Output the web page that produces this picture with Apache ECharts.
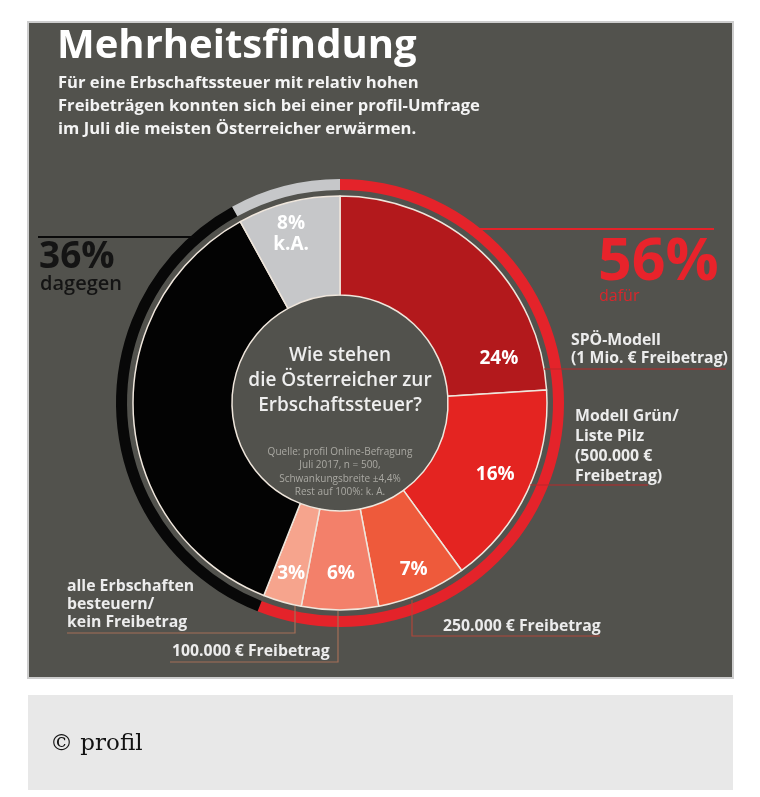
<!DOCTYPE html>
<html><head><meta charset="utf-8">
<script src="https://cdn.jsdelivr.net/npm/echarts@6/dist/echarts.min.js"></script>
<style>html,body{margin:0;padding:0;background:#fff;}#c{width:760px;height:797px;}</style>
</head><body><div id="c"></div>
<script>
// ---- data ----
const sliceNames = ['SPÖ-Modell (1 Mio. € Freibetrag)', 'Modell Grün/Liste Pilz (500.000 € Freibetrag)', '250.000 € Freibetrag', '100.000 € Freibetrag', 'alle Erbschaften besteuern/kein Freibetrag', 'dagegen', 'k.A.'];
const sliceValues = [24, 16, 7, 6, 3, 36, 8];
const sliceGroup = ['dafür', 'dafür', 'dafür', 'dafür', 'dafür', 'dagegen', 'k.A.'];
const groupNames = ['dafür', 'dagegen', 'k.A.'];
const groupTotals = groupNames.map(g => sliceValues.reduce((s, v, i) => s + (sliceGroup[i] === g ? v : 0), 0));

// ---- styles ----
const sliceColors = ['#b3191c', '#e42421', '#ee5a3b', '#f3806a', '#f6a48d', '#030303', '#c6c7c9'];
const ringColors = ['#e4232a', '#080808', '#c6c7c9'];
const labelShift = [[49, 73], [10, 3], [10, 19], [1, 10], [-4, 16], [0, 0], [-9, -13]];

function hasFont(name) {
  const ctx = document.createElement('canvas').getContext('2d');
  const s = 'mmmmmmmmmmlli1WQ0123456789abcdefgh';
  ctx.font = '40px monospace'; const a = ctx.measureText(s).width;
  ctx.font = '40px serif'; const a2 = ctx.measureText(s).width;
  ctx.font = '40px "' + name + '", monospace'; const b = ctx.measureText(s).width;
  ctx.font = '40px "' + name + '", serif'; const b2 = ctx.measureText(s).width;
  return a !== b && a2 !== b2;
}
const NARROW = hasFont('Liberation Sans Narrow');
const BODY = NARROW ? '"Liberation Sans Narrow"' : '"Open Sans"';
const sz = (narrow, open) => NARROW ? narrow : open;
const OPEN = '"Open Sans", "Noto Sans", sans-serif';
const LIGHT = '#ececec';

function txt(text, x, y, o) {
  return {
    type: 'text', z: 100, silent: true,
    style: {
      text: text, x: x, y: y, fill: o.fill || LIGHT,
      fontFamily: o.family || BODY, fontWeight: o.weight || 'bold',
      fontSize: o.size, lineHeight: o.lh || undefined,
      align: o.align || 'left', textAlign: o.align || 'left',
      verticalAlign: o.va || 'top', textVerticalAlign: o.va || 'top'
    }
  };
}
function line(points, color, w) {
  return { type: 'polyline', z: 100, silent: true, shape: { points: points }, style: { stroke: color, lineWidth: w || 1.2, fill: null } };
}

const elements = [
  { type: 'rect', z: -100, silent: true, shape: { x: 28, y: 22, width: 705, height: 656 }, style: { fill: '#52524d', stroke: '#cdcdcd', lineWidth: 2 } },
  { type: 'rect', z: -100, silent: true, shape: { x: 28, y: 695, width: 705, height: 95 }, style: { fill: '#e8e8e8' } },
  txt('© profil', 50, 744, { family: '"DejaVu Serif", serif', weight: 'normal', size: 23, fill: '#111', va: 'middle' }),
  // title and subtitle
  txt('Mehrheitsfindung', 57, 47, { family: OPEN, weight: 'bold', size: 40, fill: '#ffffff', va: 'middle' }),
  txt('Für eine Erbschaftssteuer mit relativ hohen\nFreibeträgen konnten sich bei einer profil-Umfrage\nim Juli die meisten Österreicher erwärmen.', 58, 83 - 11.5, { size: sz(21, 16.6), lh: 23, fill: '#f4f4f4' }),
  // centre text
  txt('Wie stehen\ndie Österreicher zur\nErbschaftssteuer?', 340, 356 - 12.5, { family: OPEN, weight: 600, size: 19, lh: 25, align: 'center', fill: '#eeeeee' }),
  txt('Quelle: profil Online-Befragung\nJuli 2017, n = 500,\nSchwankungsbreite ±4,4%\nRest auf 100%: k. A.', 340, 452 - 6.7, { weight: 'normal', size: sz(11, 10), lh: 13.4, align: 'center', fill: '#aaa9a3' }),
  // dagegen
  line([[38, 237], [194, 237]], '#0a0a0a', 2),
  txt('36%', 39, 257, { family: OPEN, weight: 'bold', size: 37, fill: '#141414', va: 'middle' }),
  txt('dagegen', 40, 284, { family: OPEN, weight: 600, size: 20, fill: '#141414', va: 'middle' }),
  // dafür
  line([[478, 229], [714, 229]], '#e4232a', 2),
  txt('56%', 598, 263, { family: OPEN, weight: 'bold', size: 59, fill: '#e8232b', va: 'middle' }),
  txt('dafür', 599, 296, { family: OPEN, weight: 'normal', size: 16, fill: '#d9262b', va: 'middle' }),
  // SPÖ
  txt('SPÖ-Modell\n(1 Mio. € Freibetrag)', 571, 340 - 9.25, { size: sz(19, 15.8), lh: 18.5 }),
  line([[544, 369], [726, 369]], '#b8282a', 1.2),
  // Grün
  txt('Modell Grün/\nListe Pilz\n(500.000 €\nFreibetrag)', 575, 416 - 10, { size: sz(19, 15.8), lh: 20 }),
  line([[530, 485], [648, 485]], '#b8282a', 1.2),
  // 250.000
  txt('250.000 € Freibetrag', 443, 626, { size: sz(19, 15.8), va: 'middle' }),
  line([[412, 600], [412, 636], [600, 636]], '#b0463a', 1.2),
  // 100.000
  txt('100.000 € Freibetrag', 172, 651, { size: sz(19, 15.8), va: 'middle' }),
  line([[338, 611], [338, 662], [170, 662]], '#a46f58', 1.2),
  // alle Erbschaften
  txt('alle Erbschaften\nbesteuern/\nkein Freibetrag', 67, 586 - 9, { size: sz(19, 15.8), lh: 18 }),
  line([[295, 606], [295, 633], [67, 633]], '#a46f58', 1.2)
];

const chart = echarts.init(document.getElementById('c'), null, { renderer: 'canvas' });
chart.setOption({
  backgroundColor: '#ffffff',
  animation: false,
  graphic: { elements: elements },
  series: [
    {
      type: 'pie', name: 'Anteile', center: [340, 403], radius: [108, 207], startAngle: 90, clockwise: true,
      silent: true, avoidLabelOverlap: false, z: 2,
      data: sliceNames.map((n, i) => ({ name: n, value: sliceValues[i], itemStyle: { color: sliceColors[i] } })),
      itemStyle: { borderColor: '#efe6dc', borderWidth: 1.5 },
      label: {
        show: true, position: 'inside', rotate: 0, color: '#ffffff',
        fontFamily: BODY, fontWeight: 'bold', fontSize: sz(23, 19), lineHeight: 21,
        formatter: p => p.name === 'dagegen' ? '' : p.value + '%' + (p.name === 'k.A.' ? '\nk.A.' : '')
      },
      labelLine: { show: false },
      labelLayout: p => ({ dx: labelShift[p.dataIndex][0], dy: labelShift[p.dataIndex][1] })
    },
    {
      type: 'pie', name: 'Gesamt', center: [340, 403], radius: [213, 224], startAngle: 90, clockwise: true,
      silent: true, z: 1,
      data: groupNames.map((g, i) => ({ name: g, value: groupTotals[i], itemStyle: { color: ringColors[i] } })),
      label: { show: false }, labelLine: { show: false }
    }
  ]
});
</script></body></html>
